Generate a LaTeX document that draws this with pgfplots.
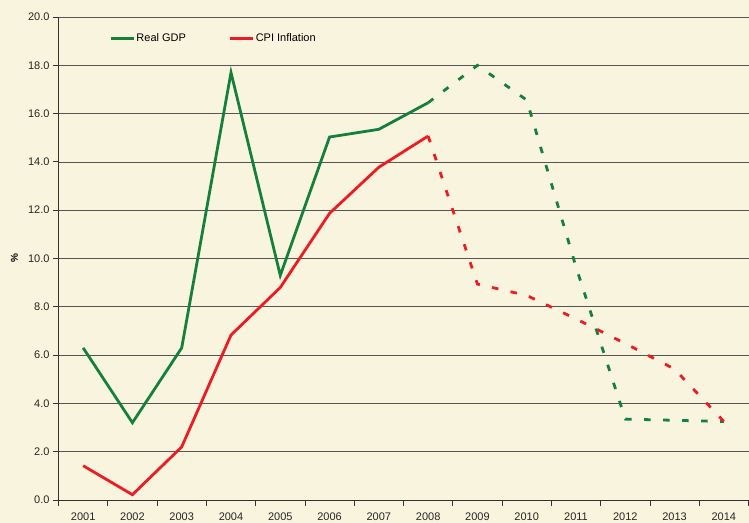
\documentclass[border=0pt]{standalone}
\usepackage{pgfplots}
\pgfplotsset{compat=1.18}
\usepackage{fontspec}
\setmainfont{Liberation Sans}
\definecolor{bgc}{RGB}{248,244,221}
\definecolor{gdp}{RGB}{20,128,60}
\definecolor{cpi}{RGB}{237,28,36}
\definecolor{gridc}{RGB}{85,85,85}
\begin{document}
\begin{tikzpicture}
\fill[bgc] (-58.5bp,-23bp) rectangle (690.5bp,500bp);
\path[use as bounding box] (-58.5bp,-23bp) rectangle (690.5bp,500bp);
\begin{axis}[
  at={(0,0)}, anchor=south west,
  scale only axis, width=690bp, height=483bp,
  xmin=-0.5, xmax=13.5, ymin=0, ymax=20,
  axis x line=bottom, axis y line=left,
  axis line style={-, line width=0.8pt, black!80},
  xtick={-0.5,0.5,...,13.5},
  x tick label as interval,
  xticklabels={2001,2002,2003,2004,2005,2006,2007,2008,2009,2010,2011,2012,2013,2014},
  xticklabel style={yshift=-4bp},
  ytick={0,2,...,20},
  yticklabel style={/pgf/number format/.cd, fixed, fixed zerofill, precision=1, assume math mode=true},
  tick label style={font=\fontsize{11bp}{13bp}\selectfont, black!85},
  tick align=outside, major tick length=5.5bp,
  tick style={line width=0.8pt, black!80},
  ymajorgrids, grid style={gridc, line width=0.75pt},
  ylabel={\textbf{\%}},
  every axis y label/.style={at={(axis description cs:0,0.5)}, xshift=-44bp, rotate=90, anchor=center, font=\fontsize{10bp}{12bp}\selectfont},
  legend columns=2,
  legend style={at={(rel axis cs:0.0732,0.9559)}, anchor=west, draw=none, fill=none, inner sep=0pt,
    font=\fontsize{11bp}{13bp}\selectfont,
    nodes={inner xsep=1.5bp, inner ysep=1bp},
    /tikz/every even column/.append style={column sep=41bp}},
  legend image code/.code={\draw[line width=2.8pt] (0bp,0bp) -- (23bp,0bp);},
  clip=false,
]
\addplot[gdp, line width=2.8pt] coordinates {(0,6.3) (1,3.2) (2,6.3) (3,17.7) (4,9.3) (5,15.03) (6,15.35) (7,16.45)};
\addlegendentry{Real GDP}
\addplot[cpi, line width=2.8pt] coordinates {(0,1.42) (1,0.22) (2,2.2) (3,6.83) (4,8.8) (5,11.87) (6,13.78) (7,15.07)};
\addlegendentry{CPI Inflation}
\addplot[gdp, line width=2.8pt, dash pattern=on 6.5bp off 12.5bp, forget plot] coordinates {(7,16.45) (8,18.0) (9,16.56) (10,9.65) (11,3.35) (12,3.3) (13,3.25)};
\addplot[cpi, line width=2.8pt, dash pattern=on 6.5bp off 12.5bp, forget plot] coordinates {(7,15.07) (8,8.94) (9,8.47) (10,7.5) (11,6.48) (12,5.42) (13,3.25)};
\end{axis}
\end{tikzpicture}
\end{document}
